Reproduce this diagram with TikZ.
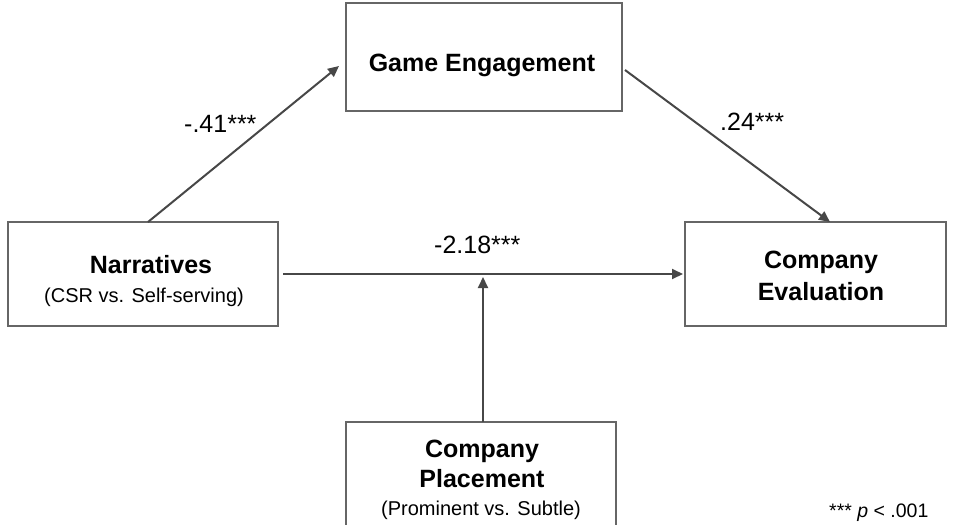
\documentclass[tikz,border=0pt]{standalone}
\usepackage{fontspec}
\setmainfont{Liberation Sans}
\usetikzlibrary{arrows.meta}
\begin{document}
\begin{tikzpicture}[x=1pt,y=-1pt,
  box/.style={draw=black!60, line width=1.3pt, fill=white, inner sep=0pt},
  title/.style={font=\fontsize{25}{30}\selectfont\bfseries, anchor=base, inner sep=0pt},
  sub/.style={font=\fontsize{20}{24}\selectfont, anchor=base, inner sep=0pt},
  path/.style={draw=black!72, line width=2pt, -{Triangle[length=11pt,width=10pt]}},
  coef/.style={font=\fontsize{25}{30}\selectfont, anchor=base west, inner sep=0pt}]
  \useasboundingbox (0,0) rectangle (954,525);
  % mediator
  \draw[box] (346,3) rectangle (622,111);
  \node[title] (ge) at (482,71) {Game Engagement};
  \coordinate (geL) at (339,66);
  \coordinate (geR) at (625,70);

  % predictor
  \draw[box] (8,222) rectangle (278,326);
  \node[title] (nar) at (151,273) {Narratives};
  \node[sub] (narsub) at (144,302) {(CSR vs. Self-serving)};
  \coordinate (narT) at (148,222);
  \coordinate (narR) at (283,274);

  % outcome
  \draw[box] (685,222) rectangle (946,326);
  \node[title] (ce1) at (821,268) {Company};
  \node[title] (ce2) at (821,300) {Evaluation};
  \coordinate (ceT) at (830,222);
  \coordinate (ceL) at (683,274);

  % moderator
  \draw[box] (346,422) rectangle (616,540);
  \node[title] (cp1) at (482,457) {Company};
  \node[title] (cp2) at (482,487) {Placement};
  \node[sub] (cpsub) at (481,515) {(Prominent vs. Subtle)};
  \coordinate (cpT) at (483,422);
  \coordinate (mid) at (483,277);

  % paths
  \draw[path] (narT) -- (geL);
  \draw[path] (geR) -- (ceT);
  \draw[path] (narR) -- (ceL);
  \draw[path] (cpT) -- (mid);

  % coefficients
  \node[coef] (a) at (184,132) {-.41***};
  \node[coef] (b) at (720,130) {.24***};
  \node[coef] (c) at (434,253) {-2.18***};
  \node[font=\fontsize{19.5}{23}\selectfont, anchor=base west, inner sep=0pt] (note) at (829,517) {*** \textit{p} < .001};
\end{tikzpicture}
\end{document}
